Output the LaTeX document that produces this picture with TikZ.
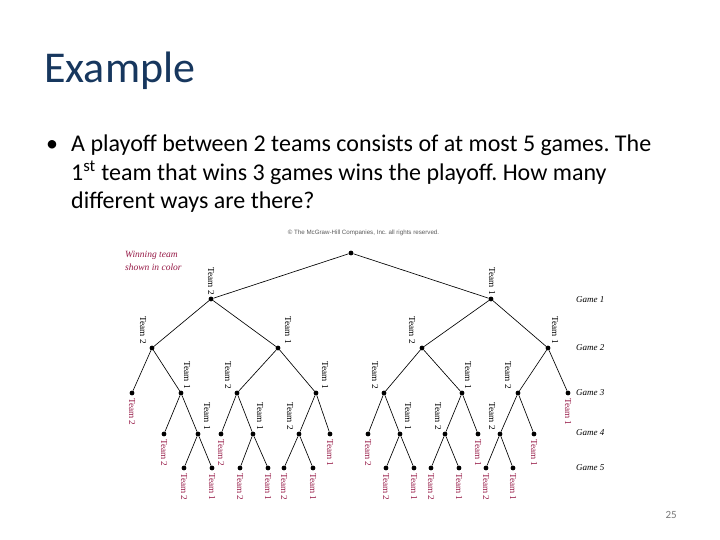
\documentclass[tikz,border=0pt]{standalone}
\usepackage{fontspec}
\setmainfont{Carlito}
\newfontfamily\treefont{Liberation Serif}
\newfontfamily\notefont{Liberation Sans}
\usepackage{xcolor}
\definecolor{titleblue}{RGB}{23,55,94}
\definecolor{wincolor}{RGB}{150,25,70}
\definecolor{notegray}{RGB}{90,90,90}
\definecolor{pagegray}{RGB}{120,120,120}
\tikzset{
  dot/.style     = {circle, fill=black, inner sep=0pt, minimum size=4.8pt},
  edge/.style    = {line width=0.65pt, black},
  lbl/.style     = {rotate=-90, inner sep=1pt, font=\treefont\fontsize{9.2}{10}\selectfont},
  winlbl/.style  = {lbl, anchor=west, text=wincolor},
  teamlbl/.style = {lbl, anchor=east},
  gamelbl/.style = {anchor=west, inner sep=0pt, font=\treefont\itshape\fontsize{9}{10}\selectfont},
  slide/.style   = {inner sep=0pt, anchor=base west},
}
\frenchspacing

\begin{document}
\begin{tikzpicture}[
    x=1pt, y=-1pt,
    body/.style={slide, font=\fontsize{24}{28.5}\selectfont}
]
\fill[white] (0,0) rectangle (720,540);
\useasboundingbox (0,0) rectangle (720,540);

% ---------------- slide text ----------------
\node[slide, text=titleblue, font=\fontsize{44}{52}\selectfont] (title) at (44,83) {Example};
\node[body] (bullet) at (46,152) {\textbullet};
\node[body] (line1) at (71,152) {A playoff between 2 teams consists of at most 5 games. The};
\node[body] (line2) at (71,180.5) {1\textsuperscript{st} team that wins 3 games wins the playoff. How many};
\node[body] (line3) at (71,209) {different ways are there?};
\node[anchor=base east, inner sep=0pt, text=pagegray, font=\fontsize{11}{13}\selectfont] (page) at (677,518) {25};

\node[text=notegray, inner sep=0pt, font=\notefont\fontsize{6.2}{7}\selectfont] (copy) at (363.5,233)
  {\textcopyright{} The McGraw-Hill Companies, Inc. all rights reserved.};
\node[anchor=north west, align=left, inner sep=0pt, text=wincolor,
      font=\treefont\itshape\fontsize{9.5}{13}\selectfont] (legend) at (125,251)
  {Winning team\\shown in color};

% ---------------- game rows ----------------
\node[gamelbl] (g1) at (576,300) {Game 1};
\node[gamelbl] (g2) at (576,348) {Game 2};
\node[gamelbl] (g3) at (576,393) {Game 3};
\node[gamelbl] (g4) at (576,433) {Game 4};
\node[gamelbl] (g5) at (576,468) {Game 5};

% ---------------- tree nodes ----------------
\node[dot] (r) at (351,253) {};

\node[dot] (n2) at (211,299) {};
\node[dot] (n1) at (491,299) {};

\node[dot] (n22) at (152,348) {};
\node[dot] (n21) at (278,348) {};
\node[dot] (n12) at (422,348) {};
\node[dot] (n11) at (548,348) {};

\node[dot] (n222) at (132,393) {};
\node[dot] (n221) at (181,393) {};
\node[dot] (n212) at (237,393) {};
\node[dot] (n211) at (316,393) {};
\node[dot] (n122) at (384,393) {};
\node[dot] (n121) at (462,393) {};
\node[dot] (n112) at (518,393) {};
\node[dot] (n111) at (568,393) {};

\node[dot] (n2212) at (164,434) {};
\node[dot] (n2211) at (198,434) {};
\node[dot] (n2122) at (221,434) {};
\node[dot] (n2121) at (253,434) {};
\node[dot] (n2112) at (299,434) {};
\node[dot] (n2111) at (330,434) {};
\node[dot] (n1222) at (368,434) {};
\node[dot] (n1221) at (400,434) {};
\node[dot] (n1212) at (445,434) {};
\node[dot] (n1211) at (478,434) {};
\node[dot] (n1122) at (500,434) {};
\node[dot] (n1121) at (534,434) {};

\node[dot] (n22112) at (184,468) {};
\node[dot] (n22111) at (212,468) {};
\node[dot] (n21212) at (240,468) {};
\node[dot] (n21211) at (268,468) {};
\node[dot] (n21122) at (284,468) {};
\node[dot] (n21121) at (313,468) {};
\node[dot] (n12212) at (386,468) {};
\node[dot] (n12211) at (414,468) {};
\node[dot] (n12122) at (431,468) {};
\node[dot] (n12121) at (459,468) {};
\node[dot] (n11222) at (486,468) {};
\node[dot] (n11221) at (513,468) {};

% ---------------- tree edges ----------------
\draw[edge] (r) -- (n2);
\draw[edge] (r) -- (n1);

\draw[edge] (n2) -- (n22);
\draw[edge] (n2) -- (n21);
\draw[edge] (n1) -- (n12);
\draw[edge] (n1) -- (n11);

\draw[edge] (n22) -- (n222);
\draw[edge] (n22) -- (n221);
\draw[edge] (n21) -- (n212);
\draw[edge] (n21) -- (n211);
\draw[edge] (n12) -- (n122);
\draw[edge] (n12) -- (n121);
\draw[edge] (n11) -- (n112);
\draw[edge] (n11) -- (n111);

\draw[edge] (n221) -- (n2212);
\draw[edge] (n221) -- (n2211);
\draw[edge] (n212) -- (n2122);
\draw[edge] (n212) -- (n2121);
\draw[edge] (n211) -- (n2112);
\draw[edge] (n211) -- (n2111);
\draw[edge] (n122) -- (n1222);
\draw[edge] (n122) -- (n1221);
\draw[edge] (n121) -- (n1212);
\draw[edge] (n121) -- (n1211);
\draw[edge] (n112) -- (n1122);
\draw[edge] (n112) -- (n1121);

\draw[edge] (n2211) -- (n22112);
\draw[edge] (n2211) -- (n22111);
\draw[edge] (n2121) -- (n21212);
\draw[edge] (n2121) -- (n21211);
\draw[edge] (n2112) -- (n21122);
\draw[edge] (n2112) -- (n21121);
\draw[edge] (n1221) -- (n12212);
\draw[edge] (n1221) -- (n12211);
\draw[edge] (n1212) -- (n12122);
\draw[edge] (n1212) -- (n12121);
\draw[edge] (n1122) -- (n11222);
\draw[edge] (n1122) -- (n11221);

% ---------------- game winners ----------------
\node[teamlbl] (t2) at ([yshift=3pt]n2) {Team 2};
\node[teamlbl] (t1) at ([xshift=1pt, yshift=3pt]n1) {Team 1};

\node[teamlbl] (t22) at ([xshift=-9pt, yshift=3pt]n22) {Team 2};
\node[teamlbl] (t21) at ([xshift=10pt, yshift=3pt]n21) {Team 1};
\node[teamlbl] (t12) at ([xshift=-10pt, yshift=3pt]n12) {Team 2};
\node[teamlbl] (t11) at ([xshift=7pt, yshift=3pt]n11) {Team 1};

\node[teamlbl] (t221) at ([xshift=6pt, yshift=3pt]n221) {Team 1};
\node[teamlbl] (t212) at ([xshift=-9pt, yshift=3pt]n212) {Team 2};
\node[teamlbl] (t211) at ([xshift=9pt, yshift=3pt]n211) {Team 1};
\node[teamlbl] (t122) at ([xshift=-9pt, yshift=3pt]n122) {Team 2};
\node[teamlbl] (t121) at ([xshift=6pt, yshift=3pt]n121) {Team 1};
\node[teamlbl] (t112) at ([xshift=-10pt, yshift=3pt]n112) {Team 2};

\node[teamlbl] (t2211) at ([xshift=9pt, yshift=3pt]n2211) {Team 1};
\node[teamlbl] (t2121) at ([xshift=7pt, yshift=3pt]n2121) {Team 1};
\node[teamlbl] (t2112) at ([xshift=-9pt, yshift=3pt]n2112) {Team 2};
\node[teamlbl] (t1221) at ([xshift=8pt, yshift=3pt]n1221) {Team 1};
\node[teamlbl] (t1212) at ([xshift=-7pt, yshift=3pt]n1212) {Team 2};
\node[teamlbl] (t1122) at ([xshift=-8pt, yshift=3pt]n1122) {Team 2};

% ---------------- playoff winners ----------------
\node[winlbl] (w222) at ([yshift=-4pt]n222) {Team 2};
\node[winlbl] (w111) at ([yshift=-4pt]n111) {Team 1};

\node[winlbl] (w2212) at ([yshift=-4pt]n2212) {Team 2};
\node[winlbl] (w2122) at ([yshift=-4pt]n2122) {Team 2};
\node[winlbl] (w2111) at ([yshift=-4pt]n2111) {Team 1};
\node[winlbl] (w1222) at ([yshift=-4pt]n1222) {Team 2};
\node[winlbl] (w1211) at ([yshift=-4pt]n1211) {Team 1};
\node[winlbl] (w1121) at ([yshift=-4pt]n1121) {Team 1};

\node[winlbl] (w22112) at ([yshift=-4pt]n22112) {Team 2};
\node[winlbl] (w22111) at ([yshift=-4pt]n22111) {Team 1};
\node[winlbl] (w21212) at ([yshift=-4pt]n21212) {Team 2};
\node[winlbl] (w21211) at ([yshift=-4pt]n21211) {Team 1};
\node[winlbl] (w21122) at ([yshift=-4pt]n21122) {Team 2};
\node[winlbl] (w21121) at ([yshift=-4pt]n21121) {Team 1};
\node[winlbl] (w12212) at ([yshift=-4pt]n12212) {Team 2};
\node[winlbl] (w12211) at ([yshift=-4pt]n12211) {Team 1};
\node[winlbl] (w12122) at ([yshift=-4pt]n12122) {Team 2};
\node[winlbl] (w12121) at ([yshift=-4pt]n12121) {Team 1};
\node[winlbl] (w11222) at ([yshift=-4pt]n11222) {Team 2};
\node[winlbl] (w11221) at ([yshift=-4pt]n11221) {Team 1};

\end{tikzpicture}
\end{document}
